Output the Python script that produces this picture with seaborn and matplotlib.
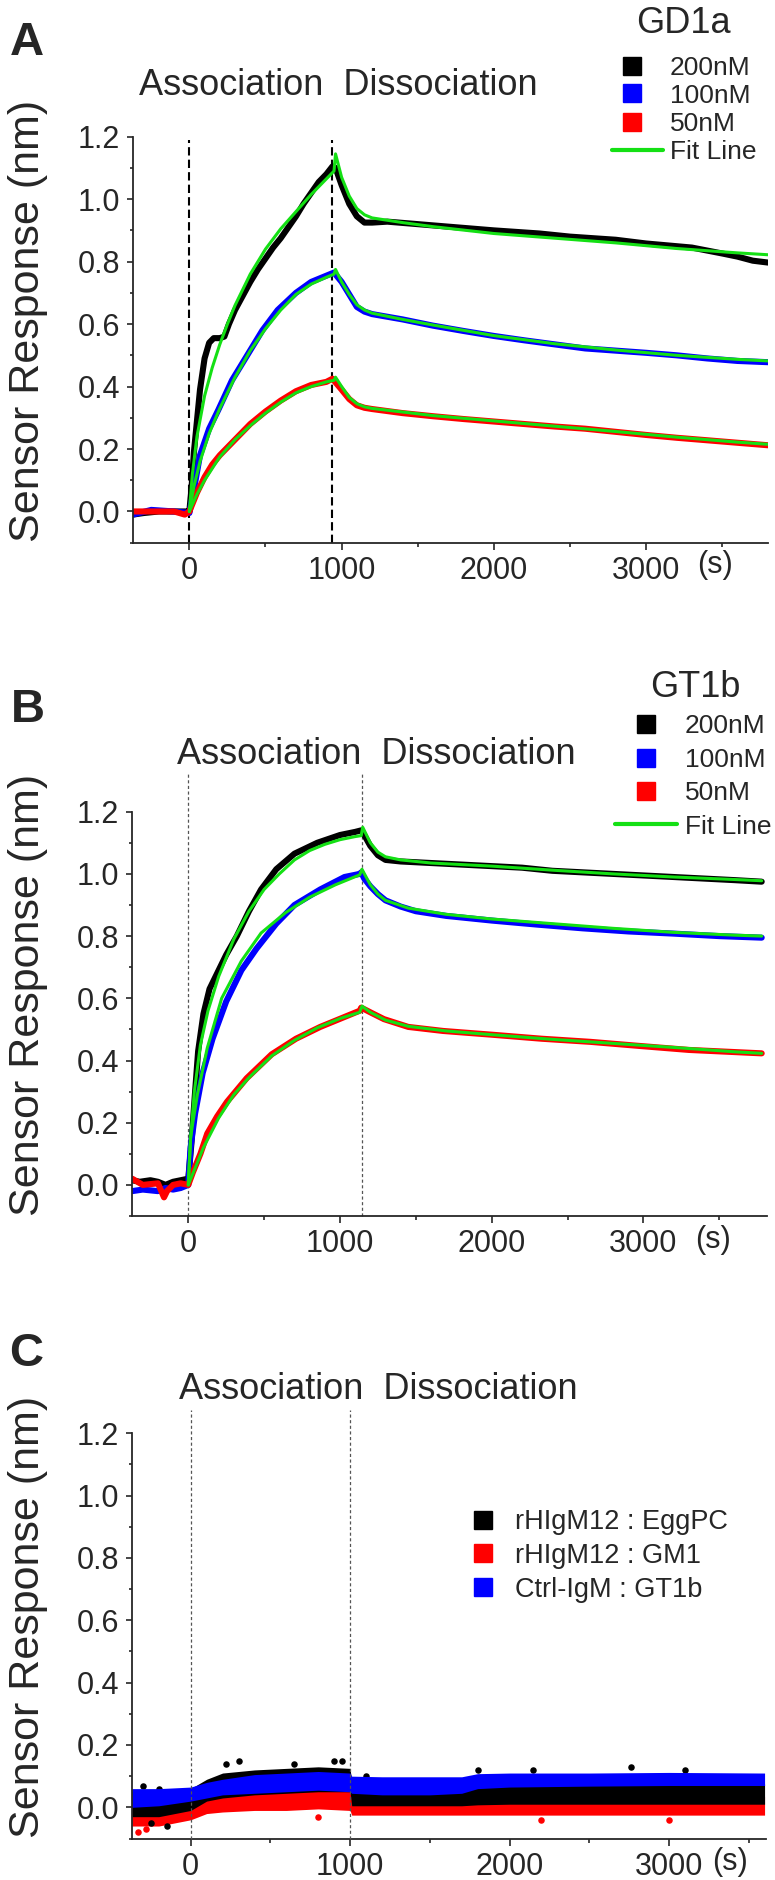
import matplotlib
matplotlib.use('Agg')
import numpy as np
import pandas as pd
import matplotlib.pyplot as plt
import seaborn as sns
from matplotlib.lines import Line2D
from matplotlib.ticker import MultipleLocator, FormatStrFormatter

sns.set_style('ticks')
plt.rcParams['font.family'] = ['Liberation Sans', 'DejaVu Sans']

BLACK, BLUE, RED, GREEN = '#000000', '#0000FF', '#FF0000', '#14E014'

# ---------------- Panel A : GD1a ----------------
tA_200 = [-370, -300, -200, -100, -20, 0, 15, 30, 50, 70, 100, 130, 160, 200, 230, 260, 300, 350,
          400, 450, 500, 550, 600, 650, 700, 750, 800, 850, 900, 940, 960, 1000, 1050, 1100, 1150,
          1200, 1300, 1500, 1700, 2000, 2300, 2500, 2800, 3000, 3300, 3500, 3600, 3700, 3800]
yA_200 = [-0.01, -0.005, 0.0, 0.0, 0.0, 0.0, 0.08, 0.19, 0.29, 0.39, 0.49, 0.54, 0.555, 0.555, 0.56,
          0.6, 0.645, 0.69, 0.735, 0.775, 0.81, 0.845, 0.875, 0.91, 0.945, 0.985, 1.02, 1.055, 1.08,
          1.105, 1.10, 1.045, 0.985, 0.945, 0.925, 0.925, 0.928, 0.92, 0.912, 0.9, 0.89, 0.88, 0.87,
          0.858, 0.845, 0.826, 0.816, 0.803, 0.797]
tA_100 = [-370, -250, -100, 0, 30, 70, 130, 190, 280, 380, 480, 580, 700, 800, 900, 950, 1000, 1050,
          1100, 1150, 1200, 1400, 1600, 1800, 2000, 2200, 2400, 2600, 2800, 3000, 3200, 3400, 3600, 3800]
yA_100 = [-0.01, 0.005, 0.0, -0.005, 0.07, 0.18, 0.265, 0.325, 0.42, 0.5, 0.58, 0.645, 0.70, 0.735,
          0.755, 0.765, 0.735, 0.695, 0.655, 0.64, 0.632, 0.615, 0.595, 0.578, 0.562, 0.548, 0.535,
          0.522, 0.515, 0.508, 0.5, 0.49, 0.482, 0.478]
tA_50 = [-370, -200, -100, -30, 0, 50, 100, 150, 200, 300, 400, 500, 600, 700, 800, 900, 940, 1000,
         1050, 1100, 1150, 1200, 1400, 1600, 1800, 2000, 2200, 2400, 2600, 2800, 3000, 3200, 3400, 3600, 3800]
yA_50 = [0.0, 0.0, 0.0, -0.01, 0.0, 0.06, 0.11, 0.15, 0.18, 0.23, 0.28, 0.32, 0.355, 0.385, 0.405,
         0.415, 0.425, 0.39, 0.36, 0.34, 0.332, 0.328, 0.315, 0.305, 0.296, 0.288, 0.28, 0.272, 0.265,
         0.255, 0.245, 0.236, 0.228, 0.22, 0.212]

fA_200_t = [0, 20, 50, 100, 150, 200, 250, 300, 400, 500, 600, 700, 800, 900, 950, 960, 1000, 1050,
            1100, 1150, 1200, 1400, 1600, 2000, 2400, 2800, 3200, 3600, 3800]
fA_200 = [0.0, 0.12, 0.24, 0.37, 0.46, 0.535, 0.6, 0.66, 0.76, 0.84, 0.905, 0.96, 1.015, 1.065, 1.09,
          1.145, 1.07, 1.01, 0.97, 0.95, 0.94, 0.925, 0.912, 0.89, 0.875, 0.86, 0.842, 0.828, 0.822]
fA_100_t = [0, 30, 70, 130, 200, 300, 400, 500, 600, 700, 800, 900, 950, 960, 1000, 1050, 1100, 1150,
            1200, 1400, 1600, 2000, 2400, 2800, 3200, 3600, 3800]
fA_100 = [0.0, 0.08, 0.16, 0.25, 0.33, 0.43, 0.515, 0.585, 0.645, 0.695, 0.728, 0.75, 0.76, 0.775,
          0.735, 0.695, 0.662, 0.645, 0.635, 0.615, 0.597, 0.563, 0.537, 0.517, 0.5, 0.487, 0.482]
fA_50_t = [0, 50, 100, 200, 300, 400, 500, 600, 700, 800, 900, 950, 960, 1000, 1050, 1100, 1150, 1200,
           1600, 2000, 2400, 2800, 3200, 3600, 3800]
fA_50 = [0.0, 0.055, 0.1, 0.175, 0.23, 0.275, 0.315, 0.35, 0.38, 0.4, 0.415, 0.42, 0.43, 0.4, 0.365,
         0.345, 0.335, 0.33, 0.307, 0.29, 0.273, 0.256, 0.238, 0.222, 0.215]

# ---------------- Panel B : GT1b ----------------
tB_200 = [-370, -320, -250, -200, -150, -100, -50, 0, 20, 45, 65, 100, 140, 190, 250, 320, 400, 480,
          580, 700, 850, 1000, 1100, 1140, 1160, 1200, 1250, 1300, 1400, 1600, 1800, 2000, 2200, 2400,
          2600, 2800, 3000, 3200, 3400, 3600, 3780]
yB_200 = [0.015, 0.01, 0.015, 0.01, 0.0, 0.01, 0.015, 0.02, 0.13, 0.3, 0.43, 0.55, 0.63, 0.68, 0.74,
          0.80, 0.88, 0.95, 1.015, 1.065, 1.1, 1.125, 1.135, 1.14, 1.125, 1.09, 1.06, 1.045, 1.04,
          1.035, 1.03, 1.025, 1.02, 1.01, 1.005, 1.0, 0.995, 0.99, 0.985, 0.98, 0.975]
tB_100 = [-370, -300, -200, -150, -100, -50, 0, 15, 45, 95, 160, 250, 350, 450, 580, 700, 870, 1030,
          1130, 1140, 1160, 1200, 1250, 1300, 1400, 1500, 1700, 2000, 2300, 2600, 2900, 3200, 3500, 3780]
yB_100 = [-0.02, -0.015, -0.02, -0.01, -0.015, -0.01, 0.0, 0.12, 0.23, 0.36, 0.47, 0.59, 0.69, 0.76,
          0.84, 0.9, 0.95, 0.99, 1.0, 1.005, 0.985, 0.96, 0.935, 0.915, 0.895, 0.88, 0.865, 0.85,
          0.837, 0.825, 0.815, 0.808, 0.8, 0.795]
tB_50 = [-370, -300, -200, -160, -140, -100, -50, 0, 30, 80, 125, 190, 255, 385, 550, 710, 870, 1030,
         1130, 1140, 1200, 1290, 1450, 1680, 2000, 2330, 2650, 2970, 3300, 3780]
yB_50 = [0.02, 0.0, 0.005, -0.04, -0.02, 0.0, 0.005, 0.0, 0.04, 0.1, 0.165, 0.22, 0.267, 0.343, 0.42,
         0.47, 0.508, 0.54, 0.56, 0.57, 0.555, 0.533, 0.508, 0.495, 0.483, 0.47, 0.46, 0.447, 0.434, 0.423]

fB_200_t = [0, 15, 40, 80, 130, 200, 300, 400, 500, 600, 700, 800, 900, 1000, 1100, 1140, 1150, 1200,
            1250, 1300, 1400, 1600, 2000, 2400, 2800, 3200, 3600, 3780]
fB_200 = [0.0, 0.15, 0.3, 0.45, 0.56, 0.67, 0.79, 0.88, 0.95, 1.0, 1.045, 1.075, 1.095, 1.11, 1.12,
          1.123, 1.15, 1.1, 1.07, 1.055, 1.045, 1.035, 1.025, 1.012, 1.0, 0.99, 0.982, 0.978]
fB_100_t = [0, 15, 30, 60, 125, 220, 350, 480, 640, 800, 970, 1130, 1145, 1200, 1250, 1300, 1450, 1700,
            2000, 2400, 2800, 3200, 3600, 3780]
fB_100 = [0.0, 0.15, 0.2, 0.29, 0.44, 0.6, 0.72, 0.81, 0.875, 0.925, 0.965, 0.997, 1.015, 0.965, 0.935,
          0.915, 0.89, 0.87, 0.855, 0.84, 0.825, 0.812, 0.803, 0.8]
fB_50_t = [0, 50, 100, 200, 300, 400, 550, 700, 850, 1000, 1130, 1145, 1200, 1300, 1450, 1700, 2000,
           2400, 2800, 3200, 3600, 3780]
fB_50 = [0.0, 0.06, 0.12, 0.215, 0.29, 0.345, 0.415, 0.465, 0.505, 0.535, 0.555, 0.575, 0.555, 0.53,
         0.51, 0.495, 0.483, 0.468, 0.455, 0.442, 0.428, 0.423]

# ---------------- Panel C : controls (noisy bands, upper / lower edges) ----------------
tC = [-370, -200, 0, 100, 200, 400, 600, 800, 1000, 1010, 1200, 1500, 1700, 1800, 2000, 2500, 3000, 3600]
c_blue_hi = [0.06, 0.06, 0.065, 0.08, 0.09, 0.105, 0.11, 0.115, 0.11, 0.1, 0.098, 0.098, 0.098, 0.108, 0.11, 0.11, 0.112, 0.11]
c_blue_lo = [0.0, 0.005, 0.02, 0.03, 0.04, 0.045, 0.05, 0.055, 0.05, 0.045, 0.04, 0.04, 0.045, 0.06, 0.065, 0.068, 0.07, 0.07]
c_black_hi = [0.05, 0.05, 0.06, 0.09, 0.11, 0.12, 0.125, 0.13, 0.125, 0.08, 0.075, 0.07, 0.07, 0.072, 0.072, 0.075, 0.075, 0.075]
c_black_lo = [-0.03, -0.03, -0.01, 0.02, 0.03, 0.04, 0.045, 0.05, 0.05, 0.005, 0.005, 0.005, 0.005, 0.008, 0.01, 0.01, 0.01, 0.01]
c_red_hi = [0.01, 0.01, 0.015, 0.035, 0.045, 0.05, 0.055, 0.06, 0.055, 0.035, 0.035, 0.035, 0.035, 0.035, 0.035, 0.035, 0.035, 0.035]
c_red_lo = [-0.06, -0.06, -0.04, -0.02, -0.015, -0.01, -0.01, -0.005, -0.01, -0.025, -0.025, -0.025, -0.025, -0.025, -0.025, -0.025, -0.025, -0.025]
# scattered points that stick out of the bands
c_black_pts_t = [-300, -200, -150, -250, 220, 300, 650, 900, 950, 1100, 1800, 2150, 2760, 3100]
c_black_pts_y = [0.07, 0.06, -0.06, -0.05, 0.14, 0.15, 0.14, 0.15, 0.15, 0.1, 0.12, 0.12, 0.13, 0.12]
c_red_pts_t = [-330, -280, 800, 2200, 3000]
c_red_pts_y = [-0.08, -0.07, -0.03, -0.04, -0.04]

W, H = 775, 1880
fig = plt.figure(figsize=(W / 100, H / 100), dpi=100)


def px(x, y):
    return x / W, 1 - y / H


def style_axes(ax, xlim):
    ax.set_xlim(*xlim)
    ax.set_ylim(-0.1, 1.2)
    ax.set_xlabel('')
    ax.set_ylabel('')
    ax.xaxis.set_minor_locator(MultipleLocator(500))
    ax.yaxis.set_major_locator(MultipleLocator(0.2))
    ax.yaxis.set_minor_locator(MultipleLocator(0.1))
    ax.yaxis.set_major_formatter(FormatStrFormatter('%.1f'))
    ax.set_xticks([0, 1000, 2000, 3000])
    ax.tick_params(axis='x', which='major', length=5, width=1.2, pad=4.5, labelsize=22)
    ax.tick_params(axis='x', which='minor', length=3, width=1.2)
    ax.tick_params(axis='y', which='major', length=4, width=1.2, pad=5, labelsize=22)
    ax.tick_params(axis='y', which='minor', length=2.4, width=1.2)
    for s in ['top', 'right']:
        ax.spines[s].set_visible(False)
    for s in ['left', 'bottom']:
        ax.spines[s].set_linewidth(1.3)


def draw_kinetics(ax, data, fits):
    for t, y, c in data:
        sns.lineplot(x=t, y=y, ax=ax, color=c, lw=4.4, sort=False)
    for t, y in fits:
        sns.lineplot(x=t, y=y, ax=ax, color=GREEN, lw=2.2, sort=False)


def key_square(x, y, c):
    fig.add_artist(Line2D([x / W], [1 - y / H], transform=fig.transFigure, marker='s',
                          ls='none', color=c, markersize=13.5))


def key_line(x0, x1, y):
    fig.add_artist(Line2D([x0 / W, x1 / W], [1 - y / H, 1 - y / H], transform=fig.transFigure,
                          color=GREEN, lw=3))


def key_label(x, y, s, size=19):
    # baseline placed so the cap height is centred on the row
    fig.text(*px(x, y + 0.358 * size * 100 / 72), s, fontsize=size, va='baseline')


# ---------------- A ----------------
axA = fig.add_axes([132.7 / W, 1 - 542.7 / H, 635.6 / W, 406 / H])
draw_kinetics(axA,
              [(tA_200, yA_200, BLACK), (tA_100, yA_100, BLUE), (tA_50, yA_50, RED)],
              [(fA_200_t, fA_200), (fA_100_t, fA_100), (fA_50_t, fA_50)])
for xv in [0, 940]:
    axA.plot([xv, xv], [-0.1, 1.19], color='black', lw=1.5, ls=(0, (4, 2)), zorder=0)
style_axes(axA, (-372, 3802))
for (yy, c, lab) in [(65.7, BLACK, '200nM'), (93.3, BLUE, '100nM'), (121.7, RED, '50nM')]:
    key_square(632, yy, c)
    key_label(670, yy, lab)
key_line(612, 663, 150)
key_label(670, 150, 'Fit Line')
fig.text(*px(636, 33), 'GD1a', fontsize=26, va='baseline')
fig.text(*px(139, 95), 'Association  Dissociation', fontsize=26, va='baseline')
fig.text(*px(10, 55), 'A', fontsize=34, fontweight='bold', va='baseline')
fig.text(*px(715, 565), '(s)', fontsize=22, ha='center', va='center')
fig.text(*px(28, 321), 'Sensor Response (nm)', fontsize=31, rotation=90, ha='center', va='center')

# ---------------- B ----------------
axB = fig.add_axes([131.7 / W, 1 - 1216 / H, 635 / W, 404.3 / H])
draw_kinetics(axB,
              [(tB_200, yB_200, BLACK), (tB_100, yB_100, BLUE), (tB_50, yB_50, RED)],
              [(fB_200_t, fB_200), (fB_100_t, fB_100), (fB_50_t, fB_50)])
for xv in [0, 1143]:
    axB.plot([xv, xv], [-0.1, 1.323], color='#555555', lw=0.9, ls=(0, (2.5, 2)), zorder=0, clip_on=False)
style_axes(axB, (-373, 3813))
for (yy, c, lab) in [(723.6, BLACK, '200nM'), (757.5, BLUE, '100nM'), (790.8, RED, '50nM')]:
    key_square(646, yy, c)
    key_label(685, yy, lab)
key_line(615, 677, 824.3)
key_label(685, 824.3, 'Fit Line')
fig.text(*px(650, 697), 'GT1b', fontsize=26, va='baseline')
fig.text(*px(177, 764), 'Association  Dissociation', fontsize=26, va='baseline')
fig.text(*px(11, 722), 'B', fontsize=34, fontweight='bold', va='baseline')
fig.text(*px(713, 1240), '(s)', fontsize=22, ha='center', va='center')
fig.text(*px(28, 995), 'Sensor Response (nm)', fontsize=31, rotation=90, ha='center', va='center')

# ---------------- C ----------------
axC = fig.add_axes([131.7 / W, 1 - 1838.5 / H, 634.3 / W, 405.2 / H])
for lo, hi, c in [(c_red_lo, c_red_hi, RED), (c_black_lo, c_black_hi, BLACK), (c_blue_lo, c_blue_hi, BLUE)]:
    axC.fill_between(tC, lo, hi, color=c, lw=0)
    if c == RED:
        sns.scatterplot(x=c_red_pts_t, y=c_red_pts_y, ax=axC, color=RED, s=22, lw=0)
    if c == BLACK:
        sns.scatterplot(x=c_black_pts_t, y=c_black_pts_y, ax=axC, color=BLACK, s=22, lw=0)
for xv in [0, 1000]:
    axC.plot([xv, xv], [-0.1, 1.275], color='#555555', lw=0.9, ls=(0, (2.5, 2)), zorder=3, clip_on=False)
style_axes(axC, (-370, 3609))
for (yy, c, lab) in [(1519.6, BLACK, 'rHIgM12 : EggPC'), (1553, RED, 'rHIgM12 : GM1'),
                     (1587, BLUE, 'Ctrl-IgM : GT1b')]:
    key_square(482.5, yy, c)
    key_label(515, yy, lab, size=19.5)
fig.text(*px(179, 1399), 'Association  Dissociation', fontsize=26, va='baseline')
fig.text(*px(9, 1366), 'C', fontsize=34, fontweight='bold', va='baseline')
fig.text(*px(730, 1862), '(s)', fontsize=22, ha='center', va='center')
fig.text(*px(28, 1617), 'Sensor Response (nm)', fontsize=31, rotation=90, ha='center', va='center')

fig.savefig('out.png', dpi=100)
